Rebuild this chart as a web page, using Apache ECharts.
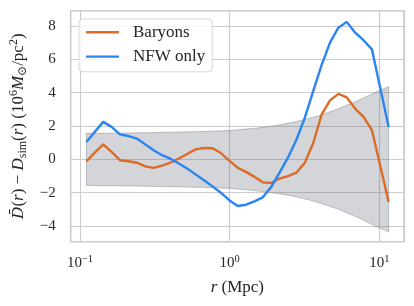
<!DOCTYPE html>
<html><head><meta charset="utf-8">
<script src="https://cdn.jsdelivr.net/npm/echarts@6/dist/echarts.min.js"></script>
<style>html,body{margin:0;padding:0;background:#fff}#c{width:414px;height:306px}</style>
</head><body><div id="c"></div>
<script>
// ---- data ----
const radius = [0.1104,0.1256,0.1429,0.1626,0.1849,0.2109,0.2399,0.2729,0.3105,0.3532,0.4018,0.4571,0.5200,0.5916,0.6730,0.7674,0.8730,0.9931,1.130,1.285,1.462,1.663,1.892,2.153,2.449,2.786,3.177,3.614,4.111,4.677,5.321,6.053,6.887,7.834,8.913,10.14,11.53];
const baryons = [-0.12,0.4,0.9,0.45,-0.05,-0.11,-0.2,-0.42,-0.51,-0.38,-0.2,0.05,0.32,0.6,0.68,0.67,0.38,-0.08,-0.5,-0.75,-1.05,-1.38,-1.42,-1.15,-1.0,-0.8,-0.2,0.98,2.68,3.54,3.93,3.72,3.05,2.55,1.75,-0.4,-2.55];
const nfwOnly = [1.04,1.65,2.25,1.95,1.5,1.4,1.25,0.9,0.55,0.25,0.04,-0.25,-0.55,-0.9,-1.25,-1.62,-2.0,-2.45,-2.8,-2.72,-2.52,-2.28,-1.66,-0.8,0.1,1.16,2.5,4.1,5.65,7.0,7.9,8.25,7.6,7.15,6.6,4.27,1.94];
const bandUpper = [1.56,1.56,1.57,1.57,1.58,1.58,1.59,1.60,1.61,1.62,1.63,1.64,1.65,1.66,1.67,1.69,1.71,1.73,1.77,1.82,1.86,1.92,1.99,2.07,2.16,2.27,2.39,2.53,2.68,2.85,3.04,3.24,3.45,3.68,3.92,4.15,4.37];
const bandLower = [-1.57,-1.57,-1.58,-1.58,-1.59,-1.59,-1.60,-1.61,-1.62,-1.63,-1.64,-1.65,-1.66,-1.67,-1.68,-1.70,-1.72,-1.74,-1.78,-1.82,-1.87,-1.93,-2.0,-2.07,-2.15,-2.25,-2.37,-2.5,-2.65,-2.82,-3.0,-3.2,-3.42,-3.65,-3.9,-4.14,-4.36];
const xTickExponents = [-1, 0, 1];
const yTicks = [-4, -2, 0, 2, 4, 6, 8];
const seriesNames = ['Baryons', 'NFW only'];

const FONT = '"Liberation Serif", "DejaVu Serif", serif';
const TXT = '#262626';
const GRIDC = '#cccccc';

function minus(n) { return n < 0 ? '\u2212' + (-n) : String(n); }

const chart = echarts.init(document.getElementById('c'), null, {renderer: 'canvas'});
chart.setOption({
  animation: false,
  backgroundColor: '#ffffff',
  grid: {left: 70.7, right: 10, top: 10.7, bottom: 64.3, containLabel: false,
         show: true, borderColor: GRIDC, borderWidth: 1.5, backgroundColor: '#ffffff'},
  legend: {
    left: 79, top: 19, orient: 'vertical',
    itemWidth: 33, itemHeight: 2.4, itemGap: 0,
    icon: 'rect',
    padding: [1, 7, 3, 7],
    backgroundColor: 'rgba(255,255,255,0.8)', borderColor: '#d6d6d6', borderWidth: 1, borderRadius: 4,
    textStyle: {fontFamily: FONT, fontSize: 17, color: TXT, lineHeight: 24.4, padding: [0, 0, 0, 9]},
    data: seriesNames
  },
  xAxis: {
    type: 'log', logBase: 10, min: 0.0867, max: 14.6,
    axisLine: {show: false}, axisTick: {show: false},
    splitLine: {show: true, lineStyle: {color: GRIDC, width: 1.2}},
    axisLabel: {
      margin: 12, fontFamily: FONT, fontSize: 15, color: TXT,
      formatter: function (v) {
        const e = Math.log10(v), k = Math.round(e);
        if (Math.abs(e - k) > 1e-6 || xTickExponents.indexOf(k) < 0) return '';
        return '10{sup|' + minus(k) + '}';
      },
      rich: {sup: {fontFamily: FONT, fontSize: 10.5, color: TXT, padding: [0, 0, 8, 0]}}
    },
    name: '{i|r} (Mpc)', nameLocation: 'middle', nameGap: 37,
    nameTextStyle: {fontFamily: FONT, fontSize: 17, color: TXT,
      rich: {i: {fontFamily: FONT, fontSize: 17, fontStyle: 'italic', color: TXT}}}
  },
  yAxis: {
    type: 'value', min: -4.94, max: 8.92, splitNumber: 7,
    axisLine: {show: false}, axisTick: {show: false},
    splitLine: {show: true, lineStyle: {color: GRIDC, width: 1.2}},
    axisLabel: {
      margin: 15, fontFamily: FONT, fontSize: 15, color: TXT,
      formatter: function (v) {
        const k = Math.round(v);
        if (Math.abs(v - k) > 1e-6 || yTicks.indexOf(k) < 0) return '';
        return minus(k);
      }
    },
    name: '{db|D\u0304}({i|r}) \u2212 {i|D}{sub|sim}({i|r}) (10{sup|6}{i|M}{sub|\u2299}/pc{sup|2})',
    nameLocation: 'middle', nameGap: 26, nameRotate: 90,
    nameTextStyle: {fontFamily: FONT, fontSize: 17, color: TXT,
      rich: {
        db: {fontFamily: '"DejaVu Serif", serif', fontSize: 15.5, fontStyle: 'italic', color: TXT},
        i: {fontFamily: FONT, fontSize: 17, fontStyle: 'italic', color: TXT},
        sub: {fontFamily: FONT, fontSize: 12, color: TXT, padding: [8, 0, 0, 0]},
        sup: {fontFamily: FONT, fontSize: 12, color: TXT, padding: [0, 0, 9, 0]}
      }}
  },
  series: [
    {
      type: 'custom', name: 'band', z: 1, silent: true, clip: true,
      data: radius.map((r, i) => [r, bandUpper[i], bandLower[i]]),
      encode: {x: 0, y: [1, 2]},
      renderItem: function (params, api) {
        if (params.dataIndex !== 0) return null;
        const pts = [];
        for (let i = 0; i < radius.length; i++) pts.push(api.coord([radius[i], bandUpper[i]]));
        for (let i = radius.length - 1; i >= 0; i--) pts.push(api.coord([radius[i], bandLower[i]]));
        return {type: 'polygon', shape: {points: pts},
          style: {fill: 'rgba(108,117,125,0.3)', stroke: 'rgba(108,117,125,0.4)', lineWidth: 1}};
      }
    },
    {
      type: 'line', name: seriesNames[0], z: 3, symbol: 'none', showSymbol: false,
      data: radius.map((r, i) => [r, baryons[i]]),
      itemStyle: {color: '#dc6a28'},
      lineStyle: {color: '#dc6a28', width: 2.4}
    },
    {
      type: 'line', name: seriesNames[1], z: 3, symbol: 'none', showSymbol: false,
      data: radius.map((r, i) => [r, nfwOnly[i]]),
      itemStyle: {color: '#2a85f2'},
      lineStyle: {color: '#2a85f2', width: 2.4}
    }
  ]
});
</script>
</body></html>
